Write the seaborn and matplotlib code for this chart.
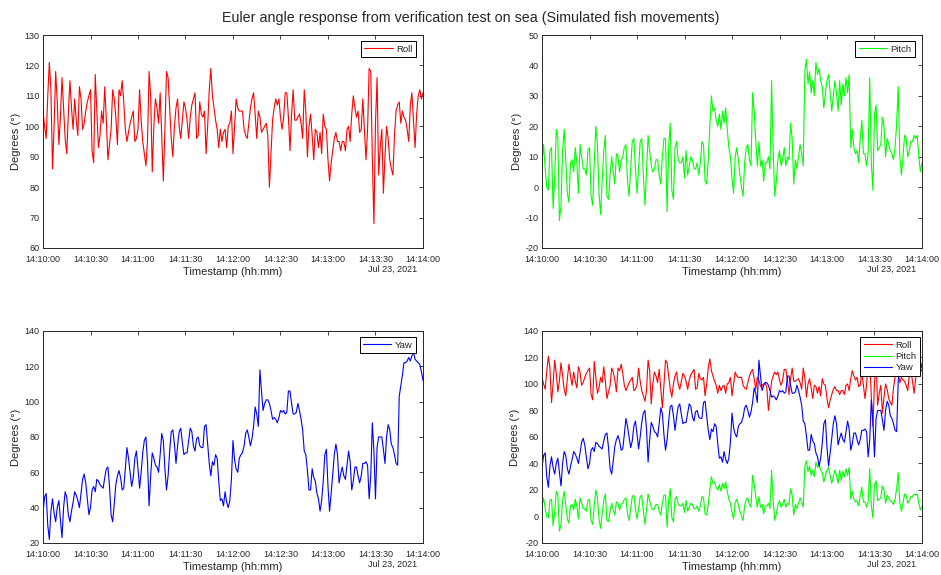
import numpy as np
import pandas as pd
import seaborn as sns
import matplotlib.pyplot as plt
import matplotlib.dates as mdates

# one sample per second, 14:10:00 .. 14:14:00
start_time = '2021-07-23 14:10:00'

roll = [105, 100, 96, 110, 121, 112, 86, 100, 118, 108, 94, 103, 116, 106, 96, 91, 104, 115, 106, 99,
        109, 102, 97, 113, 109, 99, 101, 105, 108, 110, 112, 92, 88, 117, 105, 93, 97, 105, 101, 113,
        102, 89, 94, 99, 112, 109, 103, 94, 112, 110, 115, 108, 99, 95, 98, 101, 103, 105, 95, 96,
        99, 112, 102, 95, 91, 87, 95, 118, 110, 85, 100, 109, 106, 101, 111, 96, 82, 99, 118, 116,
        106, 96, 90, 100, 106, 109, 100, 96, 102, 108, 106, 102, 96, 103, 107, 109, 111, 96, 97, 108,
        104, 103, 105, 91, 100, 112, 119, 110, 106, 102, 99, 93, 99, 95, 98, 99, 93, 100, 101, 105,
        91, 100, 109, 106, 105, 105, 105, 99, 97, 96, 101, 106, 109, 111, 104, 96, 105, 103, 98, 99,
        100, 101, 97, 80, 91, 102, 106, 109, 107, 109, 103, 99, 103, 111, 111, 103, 92, 104, 112, 102,
        102, 103, 104, 101, 96, 112, 105, 90, 100, 104, 97, 89, 99, 98, 93, 98, 91, 104, 100, 99,
        89, 82, 88, 92, 96, 98, 95, 95, 92, 95, 95, 92, 99, 100, 95, 104, 110, 106, 103, 105,
        98, 99, 109, 99, 89, 99, 119, 118, 90, 68, 101, 116, 84, 93, 99, 78, 90, 100, 96, 89,
        86, 84, 97, 105, 107, 108, 101, 105, 103, 102, 99, 95, 107, 111, 102, 93, 104, 110, 112, 109,
        111]

pitch = [8, 14, 6, 0, -1, 12, 13, -7, 3, 19, 16, -11, -6, 12, 19, 9, -2, -5, 8, 9,
         5, 13, 8, -2, 14, 10, 6, 6, 4, 12, 13, -3, -6, 8, 20, 14, -2, -9, 2, 12,
         17, -3, -4, 4, 10, 5, 1, 11, 10, 5, 9, 10, 13, 14, 2, -3, 6, 15, 16, 6,
         -2, 6, 15, 16, 4, -6, 5, 17, 12, 7, 5, 6, 9, 9, 4, 1, 10, 16, 16, -8,
         13, 21, -1, -4, 13, 15, 9, 8, 8, 10, 3, 12, 4, 7, 10, 9, 6, 6, 8, 4,
         8, 15, 14, 2, 1, 9, 20, 30, 25, 26, 22, 20, 24, 19, 25, 21, 26, 19, 13, 10,
         3, -2, 10, 13, 9, 4, 0, -3, 8, 13, 14, 9, 7, 31, 25, 15, 7, 15, 7, 9,
         2, 8, 8, 10, 6, 35, 12, -3, 2, 9, 12, 7, 9, 13, 7, 10, 9, 21, 16, 1,
         9, 6, 10, 14, 11, 7, 38, 42, 34, 38, 31, 35, 30, 41, 37, 39, 35, 33, 26, 31,
         35, 37, 31, 25, 30, 35, 31, 25, 35, 27, 34, 30, 36, 31, 37, 13, 19, 13, 11, 12,
         8, 16, 22, 11, 11, 7, 11, 36, 8, -1, 24, 27, 12, 13, 14, 23, 20, 10, 16, 14,
         12, 11, 9, 13, 21, 33, 10, 4, 10, 17, 16, 10, 12, 15, 15, 17, 16, 17, 10, 5,
         8]

yaw = [37, 46, 48, 30, 22, 38, 45, 37, 32, 40, 44, 33, 23, 40, 49, 46, 36, 32, 38, 43,
       49, 47, 44, 40, 48, 56, 59, 54, 45, 36, 40, 50, 52, 49, 56, 55, 53, 52, 51, 57,
       62, 63, 52, 36, 32, 42, 53, 58, 61, 57, 50, 51, 62, 74, 68, 60, 52, 57, 68, 72,
       62, 51, 60, 71, 78, 80, 66, 41, 58, 71, 68, 64, 63, 60, 70, 82, 78, 62, 50, 58,
       72, 83, 84, 76, 65, 75, 83, 85, 77, 70, 71, 71, 78, 85, 83, 75, 72, 79, 80, 75,
       74, 74, 86, 87, 76, 65, 58, 66, 64, 70, 68, 55, 44, 45, 41, 49, 43, 40, 44, 56,
       78, 67, 62, 60, 68, 70, 71, 75, 82, 84, 80, 75, 79, 86, 97, 93, 86, 118, 106, 95,
       99, 101, 101, 99, 95, 90, 91, 90, 88, 91, 95, 94, 95, 93, 94, 106, 106, 99, 93, 93,
       94, 99, 95, 90, 84, 72, 70, 61, 50, 50, 62, 57, 55, 48, 45, 38, 44, 55, 70, 73,
       52, 38, 48, 59, 70, 76, 70, 54, 59, 63, 58, 56, 64, 72, 66, 50, 55, 63, 63, 58,
       54, 58, 65, 65, 66, 64, 45, 58, 88, 72, 45, 74, 80, 80, 80, 73, 65, 80, 87, 84,
       76, 74, 70, 65, 64, 103, 109, 115, 122, 122, 123, 125, 123, 126, 128, 124, 123, 122, 121, 117,
       112]

timestamps = pd.date_range(start_time, periods=len(roll), freq='s')
df = pd.DataFrame({'Timestamp': timestamps, 'Roll': roll, 'Pitch': pitch, 'Yaw': yaw})

colors = {'Roll': '#ff0000', 'Pitch': '#00ff00', 'Yaw': '#0000ff'}
ylims = {'Roll': (60, 130, 10), 'Pitch': (-20, 50, 10), 'Yaw': (20, 140, 20), 'All': (-20, 140, 20)}

sns.set_style('white')
plt.rcParams['font.family'] = ['Liberation Sans', 'DejaVu Sans']
plt.rcParams['axes.unicode_minus'] = False
plt.rcParams['axes.edgecolor'] = '#262626'
plt.rcParams['xtick.color'] = '#262626'
plt.rcParams['ytick.color'] = '#262626'

fig = plt.figure(figsize=(9.41, 5.75), dpi=100)
positions = {
    'Roll': [0.0457, 0.5687, 0.4038, 0.3704],
    'Pitch': [0.576, 0.5687, 0.4038, 0.3704],
    'Yaw': [0.0457, 0.0557, 0.4038, 0.3687],
    'All': [0.576, 0.0557, 0.4038, 0.3687],
}
legend_anchor = {'Roll': (0.982, 0.97), 'Pitch': (0.982, 0.97),
                 'Yaw': (0.982, 0.97), 'All': (0.995, 0.97)}


def style_axis(ax, key):
    lo, hi, step = ylims[key]
    ax.set_ylim(lo, hi)
    ax.set_yticks(np.arange(lo, hi + step, step))
    ax.set_xlim(timestamps[0], timestamps[-1])
    ax.xaxis.set_major_locator(mdates.SecondLocator(bysecond=[0, 30]))
    ax.xaxis.set_major_formatter(mdates.DateFormatter('%H:%M:%S'))
    ax.tick_params(direction='in', length=3, width=0.6, labelsize=6.5,
                   top=True, right=True)
    ax.tick_params(axis='x', pad=5.4)
    ax.tick_params(axis='y', pad=2.4)
    for sp in ax.spines.values():
        sp.set_linewidth(0.7)
    ax.set_xlabel('Timestamp (hh:mm)', fontsize=8, labelpad=1.5, color='#262626')
    ax.set_ylabel('Degrees (°)', fontsize=8, labelpad=3, color='#262626')
    ax.text(0.985, -0.101, 'Jul 23, 2021', transform=ax.transAxes, ha='right', va='center',
            fontsize=6.5, color='#262626')
    leg = ax.legend(loc='upper right', bbox_to_anchor=legend_anchor[key], borderaxespad=0,
                    fancybox=False, edgecolor='black', fontsize=6.8,
                    handlelength=3.0, framealpha=1, borderpad=0.35,
                    labelspacing=0.25, handletextpad=0.4)
    leg.get_frame().set_linewidth(0.7)


for key in ['Roll', 'Pitch', 'Yaw']:
    ax = fig.add_axes(positions[key])
    sns.lineplot(data=df, x='Timestamp', y=key, color=colors[key], linewidth=0.8,
                 label=key, ax=ax)
    style_axis(ax, key)

ax = fig.add_axes(positions['All'])
for key in ['Roll', 'Pitch', 'Yaw']:
    sns.lineplot(data=df, x='Timestamp', y=key, color=colors[key], linewidth=0.8,
                 label=key, ax=ax)
style_axis(ax, 'All')

fig.suptitle('Euler angle response from verification test on sea (Simulated fish movements)',
             fontsize=10.3, y=0.9687, va='center', color='#262626')

fig.savefig('out.png', dpi=100)
